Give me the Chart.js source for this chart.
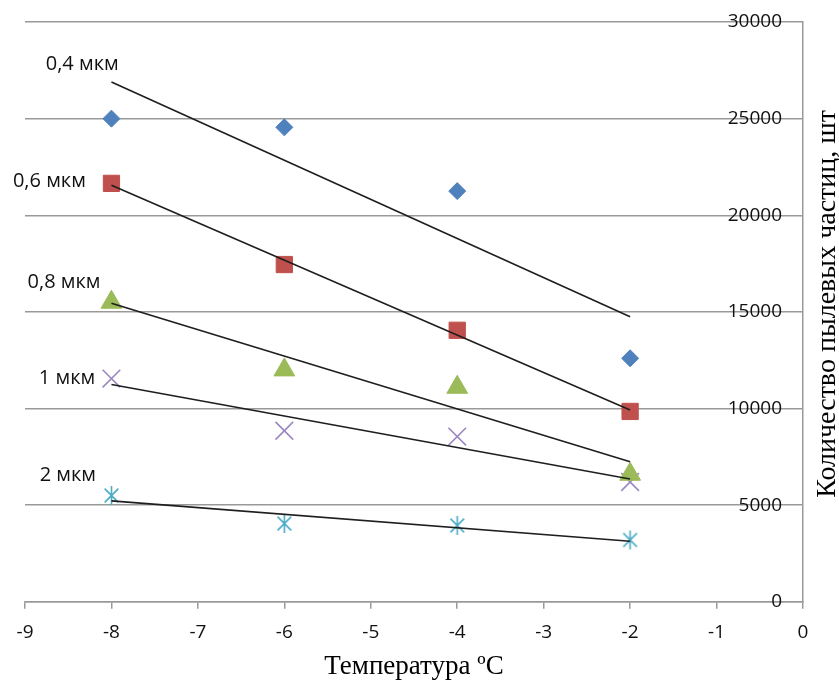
<!DOCTYPE html>
<html>
<head>
<meta charset="utf-8">
<script src="https://cdn.jsdelivr.net/npm/chart.js@4/dist/chart.umd.min.js"></script>
<style>
  html, body { margin: 0; padding: 0; background: #fff; }
  #wrap { width: 839px; height: 682px; position: relative; }
</style>
</head>
<body>
<div id="wrap"><canvas id="chart"></canvas></div>
<script>
// temperatures (ºC) where particles were counted
const temps = [-8, -6, -4, -2];

// counts per particle size
const p04 = [25000, 24550, 21250, 12600];
const p06 = [21650, 17450, 14050, 9850];
const p08 = [15500, 12000, 11100, 6600];
const p1  = [11550, 8850, 8550, 6200];
const p2  = [5500, 4050, 3950, 3200];

// linear trend lines (values at the ends)
const trendX = [-8, -2];
const trend04 = [26900, 14750];
const trend06 = [21550, 9920];
const trend08 = [15450, 7250];
const trend1  = [11240, 6350];
const trend2  = [5220, 3130];

// size captions and where they sit (in data units)
const sizeLabels = ['0,4 мкм', '0,6 мкм', '0,8 мкм', '1 мкм', '2 мкм'];
const labelX = [-8.76, -9.14, -8.97, -8.84, -8.83];
const labelY = [27800, 21750, 16550, 11550, 6530];

const xTitle = 'Температура ºC';
const yTitle = 'Количество пылевых частиц, шт';

function asterisk(color, size){
  const c = document.createElement('canvas');
  c.width = size; c.height = size;
  const g = c.getContext('2d');
  g.strokeStyle = color; g.lineWidth = 1.6;
  const m = size/2, r = size/2 - 1, d = r*0.72;
  g.beginPath();
  g.moveTo(m, m-r); g.lineTo(m, m+r);
  g.moveTo(m-d, m-d); g.lineTo(m+d, m+d);
  g.moveTo(m+d, m-d); g.lineTo(m-d, m+d);
  g.stroke();
  return c;
}

const pts = arr => arr.map((v,i)=>({x: temps[i], y: v}));
const line = arr => arr.map((v,i)=>({x: trendX[i], y: v}));

function markers(data, style, color, radius, extra){
  return Object.assign({
    type: 'scatter', data: pts(data), pointStyle: style, pointRadius: radius,
    pointHoverRadius: radius, backgroundColor: color, borderColor: color,
    borderWidth: 1, showLine: false, order: 2
  }, extra || {});
}
function trend(data){
  return {
    type: 'line', data: line(data), borderColor: '#1e1e1e', borderWidth: 1.6,
    pointRadius: 0, fill: false, showLine: true, order: 1
  };
}

const annotations = {
  id: 'annotations',
  afterDraw(chart){
    const {ctx, scales: {x, y}, chartArea} = chart;
    ctx.save();
    ctx.fillStyle = '#111';
    ctx.font = '20px "Open Sans"';
    ctx.textAlign = 'left';
    ctx.textBaseline = 'middle';
    sizeLabels.forEach((t,i)=>{
      ctx.fillText(t, x.getPixelForValue(labelX[i]), y.getPixelForValue(labelY[i]));
    });
    // right-hand axis title, reading bottom to top
    ctx.translate(chartArea.right + 25, (chartArea.top + chartArea.bottom)/2 - 8);
    ctx.rotate(-Math.PI/2);
    ctx.font = '28px "Liberation Serif"';
    ctx.textAlign = 'center';
    ctx.fillStyle = '#000';
    ctx.fillText(yTitle, 0, 0);
    ctx.restore();
  }
};

new Chart(document.getElementById('chart'), {
  type: 'scatter',
  data: {
    datasets: [
      markers(p04, 'rectRot', '#4F81BD', 8.5),
      markers(p06, 'rect', '#C0504D', 11.5),
      markers(p08, 'triangle', '#9BBB59', 12),
      markers(p1, 'crossRot', '#9C88C0', 12.5, {borderWidth: 1.6}),
      markers(p2, asterisk('#4BACC6', 21), '#4BACC6', 10),
      trend(trend04), trend(trend06), trend(trend08), trend(trend1), trend(trend2)
    ]
  },
  options: {
    responsive: true,
    maintainAspectRatio: false,
    animation: false,
    layout: { padding: { left: 25, right: 36, top: 22, bottom: 0 } },
    plugins: { legend: { display: false }, tooltip: { enabled: false } },
    scales: {
      x: {
        type: 'linear', position: 'bottom', min: -9, max: 0,
        ticks: { stepSize: 1, color: '#111', padding: 12, font: { family: 'Open Sans', size: 19 } },
        grid: { drawOnChartArea: false, drawTicks: true, tickLength: 7, color: '#999', lineWidth: 1.5 },
        border: { color: '#999', width: 1.5 },
        title: { display: true, text: xTitle, color: '#000', padding: { top: -5, bottom: -1 },
                 font: { family: 'Liberation Serif', size: 27 } }
      },
      y: {
        type: 'linear', position: 'right', min: 0, max: 30000,
        ticks: { stepSize: 5000, mirror: true, padding: -21, color: '#111',
                 font: { family: 'Open Sans', size: 19 },
                 callback: v => String(v) },
        grid: { drawTicks: false, color: '#999', lineWidth: 1.5 },
        border: { color: '#999', width: 1.5 }
      }
    }
  },
  plugins: [annotations]
});
</script>
</body>
</html>
